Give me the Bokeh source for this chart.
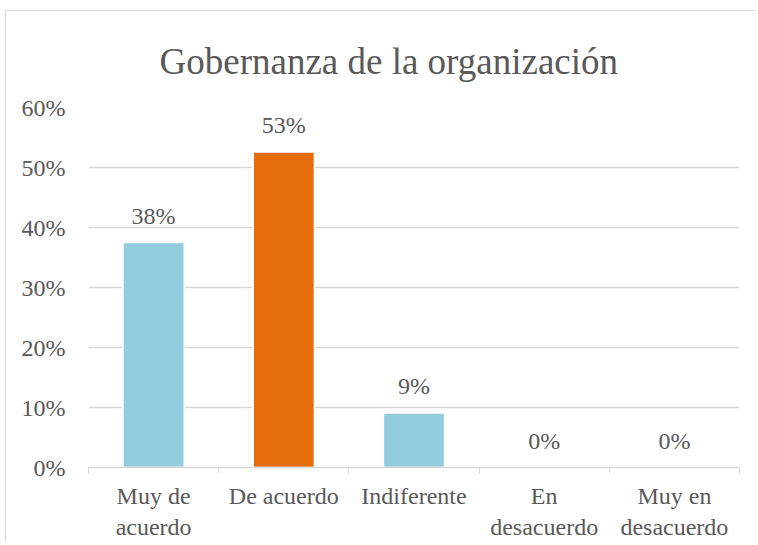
from bokeh.plotting import figure
from bokeh.models import ColumnDataSource, FixedTicker, NumeralTickFormatter
from bokeh.core.properties import value
from bokeh.embed import file_html
from bokeh.resources import INLINE

categories = ["Muy de acuerdo", "De acuerdo", "Indiferente", "En desacuerdo", "Muy en desacuerdo"]
axis_labels = ["Muy de\nacuerdo", "De acuerdo", "Indiferente", "En\ndesacuerdo", "Muy en\ndesacuerdo"]
shares = [0.375, 0.526, 0.091, 0.0, 0.0]
bar_labels = ["38%", "53%", "9%", "0%", "0%"]
bar_colors = ["#93CDDD", "#E46C0A", "#93CDDD", "#93CDDD", "#93CDDD"]
y_ticks = [0, 0.1, 0.2, 0.3, 0.4, 0.5, 0.6]
title_text = "Gobernanza de la organización"

FONT = "Times New Roman"
GREY = "#595959"
LINE = "#D9D9D9"

xpos = [i + 0.5 for i in range(len(categories))]
src = ColumnDataSource(dict(x=xpos, top=shares, label=bar_labels, color=bar_colors))

p = figure(width=750, height=532, x_range=(0, len(categories)), y_range=(0, 0.6),
           output_backend="svg", toolbar_location=None,
           min_border_left=82, min_border_right=17, min_border_top=96, min_border_bottom=76)
p.styles = {"border-left": "1px solid #D9D9D9", "border-top": "1px solid #D9D9D9",
            "margin-left": "5px", "margin-top": "10px"}
p.outline_line_color = None
p.background_fill_color = "white"
p.border_fill_color = "white"

p.vbar(x="x", top="top", width=0.47, bottom=0, fill_color="color",
       line_color="white", line_width=1.5, source=src)
p.text(x="x", y="top", text="label", source=src, text_align="center",
       text_baseline="alphabetic", y_offset=-27,
       text_font=value(FONT), text_font_size="24px", text_color=GREY)

xa = p.xaxis[0]
xa.ticker = FixedTicker(ticks=xpos, minor_ticks=list(range(len(categories) + 1)))
xa.major_label_overrides = {x: lab for x, lab in zip(xpos, axis_labels)}
xa.major_tick_line_color = None
xa.minor_tick_line_color = LINE
xa.minor_tick_in = 0
xa.minor_tick_out = 6
xa.axis_line_color = LINE
xa.axis_line_width = 1.5
xa.major_label_text_font = FONT
xa.major_label_text_font_size = "24px"
xa.major_label_text_color = GREY
xa.major_label_standoff = 9

ya = p.yaxis[0]
ya.ticker = FixedTicker(ticks=y_ticks)
ya.formatter = NumeralTickFormatter(format="0%")
ya.axis_line_color = None
ya.major_tick_line_color = None
ya.minor_tick_line_color = None
ya.major_label_text_font = FONT
ya.major_label_text_font_size = "24px"
ya.major_label_text_color = GREY
ya.major_label_standoff = 17

p.xgrid.grid_line_color = None
p.ygrid.grid_line_color = LINE
p.ygrid.grid_line_width = 1.5
p.ygrid.ticker = FixedTicker(ticks=y_ticks)

p.title.text = title_text
p.title.text_font = FONT
p.title.text_font_size = "37px"
p.title.text_color = GREY
p.title.text_font_style = "normal"
p.title.align = "left"
p.title.offset = 71
p.title.standoff = 52

open("out.html", "w").write(file_html(p, INLINE))
